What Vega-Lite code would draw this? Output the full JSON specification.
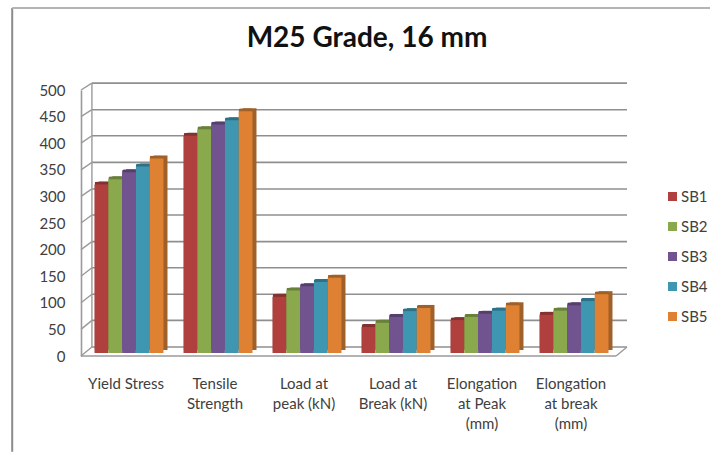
{"$schema":"https://vega.github.io/schema/vega-lite/v6.json","width":546,"height":276,"autosize":"none","padding":{"left":81,"top":80,"right":83,"bottom":96},"background":"white","config":{"view":{"stroke":null}},"title":{"text":"M25 Grade, 16 mm","font":"Lato","fontSize":28,"fontWeight":700,"color":"#111111","anchor":"middle","dx":13,"offset":-46},"datasets":{"wall":[{"level":0,"backLevel":17},{"level":50,"backLevel":67},{"level":100,"backLevel":116},{"level":150,"backLevel":166},{"level":200,"backLevel":215},{"level":250,"backLevel":265},{"level":300,"backLevel":314},{"level":350,"backLevel":364},{"level":400,"backLevel":414},{"level":450,"backLevel":463},{"level":500,"backLevel":513}],"bars":[{"property":"Yield Stress","series":"SB1","value":318},{"property":"Yield Stress","series":"SB2","value":328},{"property":"Yield Stress","series":"SB3","value":341},{"property":"Yield Stress","series":"SB4","value":352},{"property":"Yield Stress","series":"SB5","value":367},{"property":"Tensile Strength","series":"SB1","value":410},{"property":"Tensile Strength","series":"SB2","value":422},{"property":"Tensile Strength","series":"SB3","value":431},{"property":"Tensile Strength","series":"SB4","value":439},{"property":"Tensile Strength","series":"SB5","value":456},{"property":"Load at peak (kN)","series":"SB1","value":106},{"property":"Load at peak (kN)","series":"SB2","value":118},{"property":"Load at peak (kN)","series":"SB3","value":126},{"property":"Load at peak (kN)","series":"SB4","value":134},{"property":"Load at peak (kN)","series":"SB5","value":142},{"property":"Load at Break (kN)","series":"SB1","value":49},{"property":"Load at Break (kN)","series":"SB2","value":57},{"property":"Load at Break (kN)","series":"SB3","value":68},{"property":"Load at Break (kN)","series":"SB4","value":79},{"property":"Load at Break (kN)","series":"SB5","value":85},{"property":"Elongation at Peak (mm)","series":"SB1","value":62},{"property":"Elongation at Peak (mm)","series":"SB2","value":68},{"property":"Elongation at Peak (mm)","series":"SB3","value":74},{"property":"Elongation at Peak (mm)","series":"SB4","value":80},{"property":"Elongation at Peak (mm)","series":"SB5","value":90},{"property":"Elongation at break (mm)","series":"SB1","value":72},{"property":"Elongation at break (mm)","series":"SB2","value":80},{"property":"Elongation at break (mm)","series":"SB3","value":90},{"property":"Elongation at break (mm)","series":"SB4","value":98},{"property":"Elongation at break (mm)","series":"SB5","value":111}]},"resolve":{"scale":{"x":"independent","y":"independent","color":"independent","xOffset":"independent"}},"layer":[{"data":{"name":"wall"},"mark":{"type":"rule","color":"#8f8f8f","strokeWidth":1.6},"encoding":{"x":{"datum":0.02,"type":"quantitative","scale":{"domain":[0,1],"range":[0,546]},"axis":null},"x2":{"datum":1},"y":{"field":"backLevel","type":"quantitative","scale":{"domain":[0,500],"range":[276,10]},"axis":null}}},{"data":{"name":"wall"},"mark":{"type":"rule","color":"#9a9a9a","strokeWidth":1.4},"encoding":{"x":{"datum":0,"type":"quantitative","scale":{"domain":[0,1],"range":[0,546]},"axis":null},"x2":{"datum":0.02},"y":{"field":"level","type":"quantitative","scale":{"domain":[0,500],"range":[276,10]},"axis":{"values":[0,50,100,150,200,250,300,350,400,450,500],"title":null,"ticks":false,"grid":false,"domain":true,"domainColor":"#9a9a9a","domainWidth":1.6,"labelFont":"Lato","labelFontSize":15,"labelColor":"#404040","labelPadding":16}},"y2":{"field":"backLevel"}}},{"data":{"values":[{"level":0}]},"mark":{"type":"rule","color":"#9a9a9a","strokeWidth":1.6},"encoding":{"x":{"datum":0,"type":"quantitative","scale":{"domain":[0,1],"range":[0,546]},"axis":null},"x2":{"datum":0.98},"y":{"field":"level","type":"quantitative","scale":{"domain":[0,500],"range":[276,10]},"axis":null}}},{"data":{"values":[{"level":0,"backLevel":17}]},"mark":{"type":"rule","color":"#9a9a9a","strokeWidth":1.4},"encoding":{"x":{"datum":0.98,"type":"quantitative","scale":{"domain":[0,1],"range":[0,546]},"axis":null},"x2":{"datum":1},"y":{"field":"level","type":"quantitative","scale":{"domain":[0,500],"range":[276,10]},"axis":null},"y2":{"field":"backLevel"}}},{"data":{"values":[{"level":17,"top":513}]},"mark":{"type":"rule","color":"#9a9a9a","strokeWidth":1.4},"encoding":{"x":{"datum":0.02,"type":"quantitative","scale":{"domain":[0,1],"range":[0,546]},"axis":null},"y":{"field":"level","type":"quantitative","scale":{"domain":[0,500],"range":[276,10]},"axis":null},"y2":{"field":"top"}}},{"data":{"values":[{"a":654,"b":-180}]},"mark":{"type":"rule","color":"#8c8c8c","strokeWidth":2},"encoding":{"x":{"datum":-0.126,"type":"quantitative","scale":{"domain":[0,1],"range":[0,546]},"axis":null},"y":{"field":"a","type":"quantitative","scale":{"domain":[0,500],"range":[276,10]},"axis":null},"y2":{"field":"b"}}},{"data":{"values":[{"a":654}]},"mark":{"type":"rule","color":"#b4b4b4","strokeWidth":2},"encoding":{"x":{"datum":-0.126,"type":"quantitative","scale":{"domain":[0,1],"range":[0,546]},"axis":null},"x2":{"datum":1.153},"y":{"field":"a","type":"quantitative","scale":{"domain":[0,500],"range":[276,10]},"axis":null}}},{"data":{"name":"bars"},"mark":{"type":"bar"},"encoding":{"x":{"field":"property","type":"nominal","sort":null,"scale":{"range":[7.5,541.5],"paddingInner":0.225,"paddingOuter":0.1125},"axis":null},"xOffset":{"field":"series","type":"nominal","sort":null},"y":{"field":"value","type":"quantitative","scale":{"domain":[0,500],"range":[270,5]},"axis":null},"color":{"field":"series","type":"nominal","legend":null,"scale":{"domain":["SB1","SB2","SB3","SB4","SB5"],"range":["#843230","#68803A","#553F6D","#2E7186","#A0602A"]}}}},{"data":{"name":"bars"},"mark":{"type":"bar","cornerRadiusEnd":2},"encoding":{"x":{"field":"property","type":"nominal","sort":null,"scale":{"range":[3.5,537.5],"paddingInner":0.225,"paddingOuter":0.1125},"axis":null},"xOffset":{"field":"series","type":"nominal","sort":null},"y":{"field":"value","type":"quantitative","scale":{"domain":[0,500],"range":[270,5]},"axis":null},"color":{"field":"series","type":"nominal","legend":null,"scale":{"domain":["SB1","SB2","SB3","SB4","SB5"],"range":["#843230","#68803A","#553F6D","#2E7186","#A0602A"]}}}},{"data":{"name":"bars"},"mark":{"type":"bar"},"encoding":{"x":{"field":"property","type":"nominal","sort":null,"scale":{"range":[3.5,537.5],"paddingInner":0.225,"paddingOuter":0.1125},"axis":{"title":null,"domain":false,"ticks":false,"labelAngle":0,"labelFont":"Lato","labelFontSize":15,"labelColor":"#404040","labelPadding":20,"labelLineHeight":20,"labelOffset":-3,"labelLimit":200,"labelExpr":"{'Yield Stress':['Yield Stress'],'Tensile Strength':['Tensile','Strength'],'Load at peak (kN)':['Load at','peak (kN)'],'Load at Break (kN)':['Load at','Break (kN)'],'Elongation at Peak (mm)':['Elongation','at Peak','(mm)'],'Elongation at break (mm)':['Elongation','at break','(mm)']}[datum.label]"}},"xOffset":{"field":"series","type":"nominal","sort":null},"y":{"field":"value","type":"quantitative","scale":{"domain":[0,500],"range":[273,8]},"axis":null},"color":{"field":"series","type":"nominal","scale":{"domain":["SB1","SB2","SB3","SB4","SB5"],"range":["#B0403D","#8AA84C","#71548F","#3E96B0","#DE8133"]},"legend":{"title":null,"orient":"none","legendX":584,"legendY":109,"symbolType":"square","symbolSize":81,"symbolStrokeWidth":0,"labelFont":"Lato","labelFontSize":15,"labelColor":"#404040","labelOffset":1,"rowPadding":14,"padding":0}}}}]}
